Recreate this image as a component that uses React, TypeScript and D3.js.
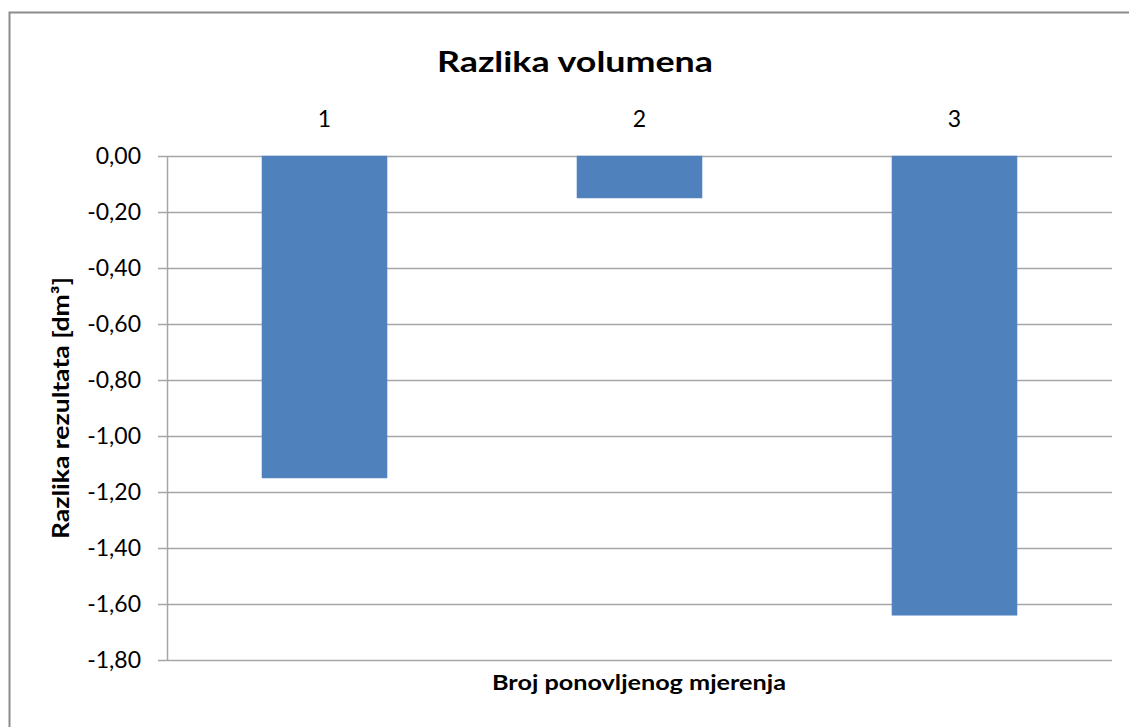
import React from "react";
import * as d3 from "d3";

const categories = ["1", "2", "3"];
const values = [-1.15, -0.15, -1.64];
const yTicks = [0, -0.2, -0.4, -0.6, -0.8, -1.0, -1.2, -1.4, -1.6, -1.8];
const title = "Razlika volumena";
const xTitle = "Broj ponovljenog mjerenja";
const yTitle = "Razlika rezultata [dm³]";

const W = 1129;
const H = 727;
const FONT = "Lato, 'Open Sans', sans-serif";

export default function App() {
  const left = 167, right = 1112, top = 156, bottom = 660;
  const x = d3.scaleBand<string>().domain(categories).range([left, right]).paddingInner(0).paddingOuter(0);
  const y = d3.scaleLinear().domain([-1.8, 0]).range([bottom, top]);
  const barW = x.step() * 0.397;
  const fmt = (v: number) => d3.format(".2f")(v).replace("−", "-").replace(".", ",");

  return (
    <svg width={W} height={H} style={{ position: "absolute", left: 0, top: 0, display: "block" }}>
      <rect x={0} y={0} width={W} height={H} fill="#fff" />
      <path d={`M9.5,${H + 5} L9.5,12.5 L${W + 5},12.5`} fill="none" stroke="#8c8c8c" strokeWidth={2} />
      <text x={575} y={72} textAnchor="middle" fontFamily={FONT} fontWeight="bold" fontSize={29} fill="#000"
        textLength={276} lengthAdjust="spacingAndGlyphs">
        {title}
      </text>
      {yTicks.map((t) => (
        <g key={t}>
          <line x1={158} x2={right} y1={Math.round(y(t)) + 0.5} y2={Math.round(y(t)) + 0.5} stroke="#a6a6a6" strokeWidth={1.5} />
          <text x={141} y={y(t) + 8} textAnchor="end" fontFamily={FONT} fontSize={23} fill="#000">
            {fmt(t)}
          </text>
        </g>
      ))}
      <line x1={167.5} x2={167.5} y1={top} y2={bottom} stroke="#a6a6a6" strokeWidth={1.5} />
      {categories.map((c, i) => {
        const cx = x(c)! + x.bandwidth() / 2;
        return (
          <g key={c}>
            <rect x={cx - barW / 2} y={y(0)} width={barW} height={y(values[i]) - y(0)} fill="#4f81bd" stroke="#5b8bc6" strokeWidth={0.5} />
            <text x={cx} y={127} textAnchor="middle" fontFamily={FONT} fontSize={23} fill="#000">
              {c}
            </text>
          </g>
        );
      })}
      <text x={639} y={690} textAnchor="middle" fontFamily={FONT} fontWeight="bold" fontSize={21} fill="#000"
        textLength={294} lengthAdjust="spacingAndGlyphs">
        {xTitle}
      </text>
      <text transform="translate(69,408) rotate(-90)" textAnchor="middle" fontFamily={FONT} fontWeight="bold" fontSize={22} fill="#000"
        textLength={262} lengthAdjust="spacingAndGlyphs">
        {yTitle}
      </text>
    </svg>
  );
}
